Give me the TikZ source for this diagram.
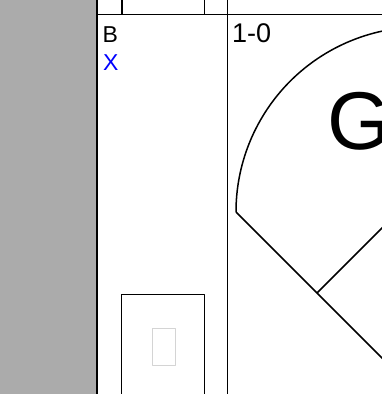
\documentclass[tikz,border=0pt]{standalone}
\usepackage{fontspec}
\setmainfont{Liberation Sans}

\definecolor{scoremargin}{HTML}{ABABAB}
\definecolor{scoremark}{HTML}{0000FF}
\definecolor{scoreslot}{HTML}{D4D4D4}

\begin{document}
\begin{tikzpicture}[x=1pt,y=-1pt,line join=round,
  gridrule/.style={draw=black,line width=1.5pt},
  fieldrule/.style={draw=black,line width=1.5pt},
  celltext/.style={anchor=base west,inner sep=0pt,font=\fontsize{23}{23}\selectfont}]
  % Match the artwork frame of the cropped scorecard.
  \useasboundingbox (0,0) rectangle (382,394);

  % Gray margin strip on the left.
  \fill[scoremargin] (0,0) rectangle (96.2,394);

  % Grid corners of the scorecard cells.
  \coordinate (colA) at (97,-2);
  \coordinate (colAb) at (97,398);
  \coordinate (colB) at (227.5,-2);
  \coordinate (colBb) at (227.5,398);
  \coordinate (rowL) at (97,14.5);
  \coordinate (rowR) at (386,14.5);
  \coordinate (tickA) at (121.8,-2);
  \coordinate (tickAb) at (121.8,14.5);
  \coordinate (tickB) at (204.3,-2);
  \coordinate (tickBb) at (204.3,14.5);

  \draw[gridrule] (colA) -- (colAb);
  \draw[gridrule] (colB) -- (colBb);
  \draw[gridrule] (rowL) -- (rowR);
  \draw[gridrule] (tickA) -- (tickAb);
  \draw[gridrule] (tickB) -- (tickBb);

  % Cell texts.
  \node[celltext] (batter) at (102.5,42) {B};
  \node[celltext,text=scoremark] (mark) at (102.8,70.5) {X};
  \node[celltext,font=\fontsize{27}{27}\selectfont] (count) at (232,42.5) {1-0};
  \node[anchor=base west,inner sep=0pt,font=\fontsize{82}{82}\selectfont] (bigletter) at (327.5,149) {G};

  % Diamond: foul line, base path and outfield arc.
  \coordinate (lfcorner) at (236,212);
  \coordinate (third) at (317,293);
  \coordinate (home) at (421,397);
  \coordinate (second) at (421,189);
  \draw[fieldrule] (lfcorner) -- (home);
  \draw[fieldrule] (third) -- (second);
  \draw[fieldrule] (lfcorner) arc[start angle=180,end angle=280,radius=185];

  % Small box at the foot of the cell, with its light slot.
  \coordinate (boxbl) at (121.3,400);
  \coordinate (boxtl) at (121.3,294.5);
  \coordinate (boxtr) at (204.3,294.5);
  \coordinate (boxbr) at (204.3,400);
  \draw[gridrule] (boxbl) -- (boxtl) -- (boxtr) -- (boxbr);
  \draw[draw=scoreslot,line width=1.2pt] (152.6,328.6) rectangle (175.2,365.8);
\end{tikzpicture}
\end{document}
